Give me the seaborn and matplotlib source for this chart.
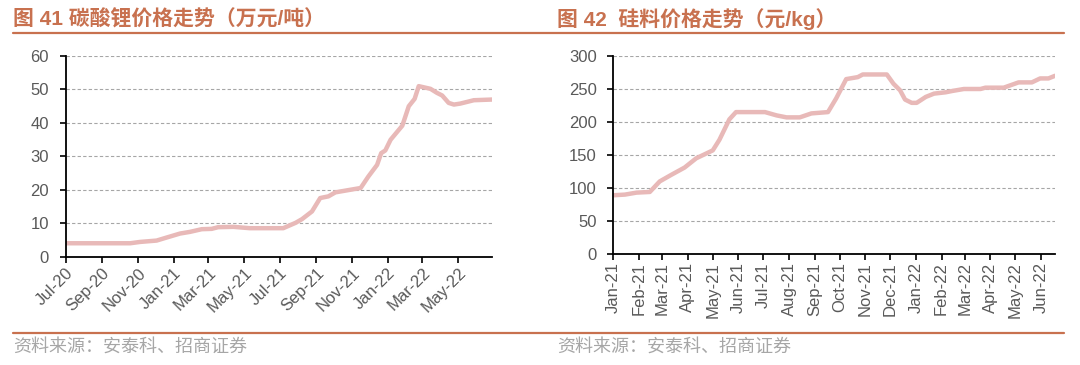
import numpy as np
import pandas as pd
import matplotlib
matplotlib.use('Agg')
import matplotlib.pyplot as plt
import matplotlib.dates as mdates
from matplotlib.lines import Line2D
import seaborn as sns

# Figure 41: lithium carbonate price (10k CNY / t)
li_dates = ['2020-07-01', '2020-10-19', '2020-11-05', '2020-12-03', '2020-12-20',
            '2021-01-12', '2021-01-29', '2021-02-18', '2021-03-07', '2021-03-18',
            '2021-04-13', '2021-05-11', '2021-06-15', '2021-07-07', '2021-07-28',
            '2021-08-08', '2021-08-25', '2021-09-08', '2021-09-22', '2021-10-04',
            '2021-11-16', '2021-11-29', '2021-12-14', '2021-12-21', '2021-12-28',
            '2022-01-06', '2022-01-26', '2022-02-06', '2022-02-16', '2022-02-23',
            '2022-03-15', '2022-03-26', '2022-04-04', '2022-04-15', '2022-04-24',
            '2022-05-05', '2022-05-28', '2022-06-28']
li_price = [4.1, 4.1, 4.5, 4.9, 5.8,
            7.0, 7.5, 8.3, 8.4, 8.9,
            9.0, 8.6, 8.6, 8.6, 10.2,
            11.3, 13.6, 17.6, 18.1, 19.3,
            20.6, 24.0, 27.5, 31.0, 31.8,
            35.0, 39.2, 45.0, 47.2, 51.0,
            50.2, 49.0, 48.2, 46.0, 45.5,
            45.8, 46.8, 47.0]

# Figure 42: silicon material price (CNY / kg)
si_dates = ['2021-01-01', '2021-01-15', '2021-01-29', '2021-02-14', '2021-02-26',
            '2021-03-12', '2021-03-28', '2021-04-11', '2021-05-01', '2021-05-09',
            '2021-05-21', '2021-05-29', '2021-07-03', '2021-07-17', '2021-07-29',
            '2021-08-14', '2021-08-28', '2021-09-17', '2021-09-27', '2021-10-09',
            '2021-10-23', '2021-10-29', '2021-11-27', '2021-12-05', '2021-12-13',
            '2021-12-19', '2021-12-27', '2022-01-02', '2022-01-13', '2022-01-23',
            '2022-02-06', '2022-02-14', '2022-02-28', '2022-03-20', '2022-03-26',
            '2022-04-17', '2022-05-05', '2022-05-21', '2022-05-31', '2022-06-10',
            '2022-06-18']
si_price = [89, 90, 93, 94, 110,
            120, 131, 145, 157, 173,
            204, 215, 215, 210, 207,
            207, 213, 215, 236, 265,
            268, 272, 272, 258, 248,
            234, 229, 229, 238, 243,
            245, 247, 250, 250, 252,
            252, 260, 260, 266, 266,
            270]

title_left = '图 41 碳酸锂价格走势（万元/吨）'
title_right = '图 42  硅料价格走势（元/kg）'
source_text = '资料来源：安泰科、招商证券'

LINE_COLOR = '#E8B9B8'
ACCENT = '#C8714F'
TICK_COLOR = '#595959'

sns.set_style('white')
plt.rcParams['font.family'] = ['Liberation Sans', 'Noto Sans CJK SC', 'DejaVu Sans']

fig = plt.figure(figsize=(10.8, 3.65), dpi=100)
ax1 = fig.add_axes([0.0608, 0.2959, 0.3948, 0.5507])
ax2 = fig.add_axes([0.5679, 0.3041, 0.4090, 0.5425])

li = pd.DataFrame({'date': pd.to_datetime(li_dates), 'price': li_price})
si = pd.DataFrame({'date': pd.to_datetime(si_dates), 'price': si_price})

sns.lineplot(data=li, x='date', y='price', ax=ax1, color=LINE_COLOR, linewidth=3.2)
sns.lineplot(data=si, x='date', y='price', ax=ax2, color=LINE_COLOR, linewidth=3.2)


def style_axis(ax, df, ymax, ystep, locator, rot):
    ax.set_xlim(df['date'].iloc[0], df['date'].iloc[-1])
    ax.set_ylim(0, ymax)
    ax.set_yticks(np.arange(0, ymax + 1, ystep))
    ax.set_xlabel('')
    ax.set_ylabel('')
    ax.xaxis.set_major_locator(locator)
    ax.xaxis.set_major_formatter(mdates.DateFormatter('%b-%y'))
    for s in ['top', 'right']:
        ax.spines[s].set_visible(False)
    for s in ['left', 'bottom']:
        ax.spines[s].set_color('black')
        ax.spines[s].set_linewidth(1.3)
    ax.yaxis.grid(True, linestyle=(0, (3, 2)), color='#A6A6A6', linewidth=0.8)
    ax.xaxis.grid(False)
    ax.tick_params(axis='both', which='major', direction='out', length=4, width=1.2,
                   color='black', labelsize=12, labelcolor=TICK_COLOR, pad=2,
                   left=True, bottom=True)
    ax.tick_params(axis='y', pad=8)
    for lab in ax.get_xticklabels():
        lab.set_rotation(rot)
        if rot == 45:
            lab.set_ha('right')
            lab.set_rotation_mode('anchor')
        else:
            lab.set_ha('center')


style_axis(ax1, li, 60, 10, mdates.MonthLocator(bymonth=[1, 3, 5, 7, 9, 11]), 45)
style_axis(ax2, si, 300, 50, mdates.MonthLocator(), 90)

# titles, header and footer rules
fig.text(0.012, 0.948, title_left, color=ACCENT, fontsize=15, fontweight='bold',
         va='center', ha='left', family=['Liberation Sans', 'Noto Sans CJK SC'])
fig.text(0.516, 0.948, title_right, color=ACCENT, fontsize=15, fontweight='bold',
         va='center', ha='left', family=['Liberation Sans', 'Noto Sans CJK SC'])
fig.add_artist(Line2D([0.012, 0.985], [0.909, 0.909], color=ACCENT, linewidth=1.6,
                      transform=fig.transFigure))
fig.add_artist(Line2D([0.012, 0.985], [0.088, 0.088], color=ACCENT, linewidth=1.6,
                      transform=fig.transFigure))
fig.text(0.012, 0.05, source_text, color='#A6A6A6', fontsize=13, va='center',
         ha='left', family=['Noto Sans CJK SC'])
fig.text(0.516, 0.05, source_text, color='#A6A6A6', fontsize=13, va='center',
         ha='left', family=['Noto Sans CJK SC'])

fig.savefig('out.png', dpi=100)
